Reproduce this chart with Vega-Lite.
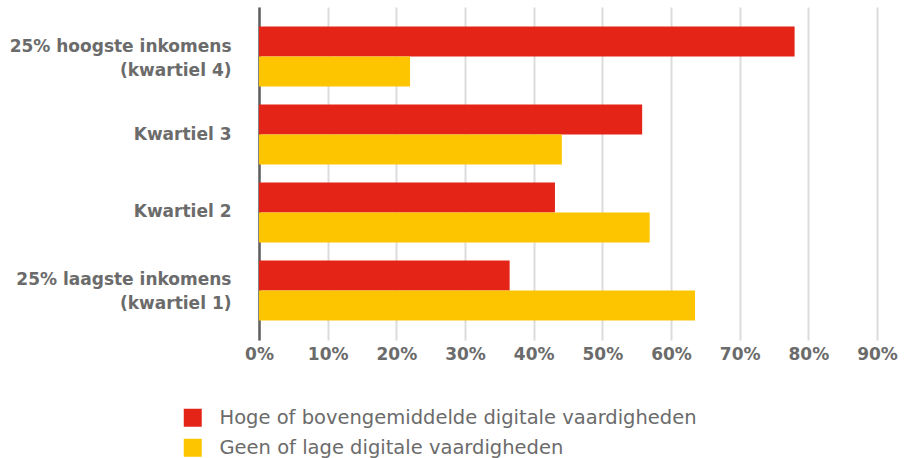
{
  "$schema": "https://vega.github.io/schema/vega-lite/v6.json",
  "width": 618,
  "height": 333,
  "autosize": {"type": "none"},
  "padding": {"left": 259, "top": 7, "right": 30, "bottom": 118},
  "background": "white",
  "config": {
    "view": {"stroke": null},
    "font": "DejaVu Sans"
  },
  "data": {
    "values": [
      {"groep": "25% hoogste inkomens|(kwartiel 4)", "reeks": "Hoge of bovengemiddelde digitale vaardigheden", "waarde": 0.78},
      {"groep": "25% hoogste inkomens|(kwartiel 4)", "reeks": "Geen of lage digitale vaardigheden", "waarde": 0.22},
      {"groep": "Kwartiel 3 ", "reeks": "Hoge of bovengemiddelde digitale vaardigheden", "waarde": 0.558},
      {"groep": "Kwartiel 3 ", "reeks": "Geen of lage digitale vaardigheden", "waarde": 0.441},
      {"groep": "Kwartiel 2 ", "reeks": "Hoge of bovengemiddelde digitale vaardigheden", "waarde": 0.431},
      {"groep": "Kwartiel 2 ", "reeks": "Geen of lage digitale vaardigheden", "waarde": 0.569},
      {"groep": "25% laagste inkomens|(kwartiel 1)", "reeks": "Hoge of bovengemiddelde digitale vaardigheden", "waarde": 0.365},
      {"groep": "25% laagste inkomens|(kwartiel 1)", "reeks": "Geen of lage digitale vaardigheden", "waarde": 0.635}
    ]
  },
  "mark": {"type": "bar"},
  "encoding": {
    "y": {
      "field": "groep",
      "type": "nominal",
      "sort": null,
      "scale": {"paddingInner": 0.23, "paddingOuter": 0.25},
      "axis": {
        "title": null,
        "labelExpr": "split(datum.label, '|')",
        "labelFontSize": 17,
        "labelFontWeight": "bold",
        "labelColor": "#6b6b6b",
        "labelPadding": 28,
        "labelLineHeight": 24,
        "labelLimit": 300,
        "labelOffset": {"condition": {"test": "indexof(datum.value, '|') >= 0", "value": -10}, "value": 0},
        "ticks": false,
        "domainColor": "#5f5f5f",
        "domainWidth": 2.5,
        "grid": false
      }
    },
    "x": {
      "field": "waarde",
      "type": "quantitative",
      "scale": {"domain": [0, 0.9], "nice": false},
      "axis": {
        "title": null,
        "format": ".0%",
        "values": [0, 0.1, 0.2, 0.3, 0.4, 0.5, 0.6, 0.7, 0.8, 0.9],
        "domain": false,
        "ticks": false,
        "grid": true,
        "gridColor": "#dcdcdc",
        "gridWidth": 2,
        "labelFlush": false,
        "labelFontSize": 17,
        "labelFontWeight": "bold",
        "labelColor": "#6b6b6b",
        "labelPadding": 6
      }
    },
    "yOffset": {
      "field": "reeks",
      "type": "nominal",
      "sort": ["Hoge of bovengemiddelde digitale vaardigheden", "Geen of lage digitale vaardigheden"]
    },
    "color": {
      "field": "reeks",
      "type": "nominal",
      "sort": ["Hoge of bovengemiddelde digitale vaardigheden", "Geen of lage digitale vaardigheden"],
      "scale": {
        "domain": ["Hoge of bovengemiddelde digitale vaardigheden", "Geen of lage digitale vaardigheden"],
        "range": ["#e32417", "#fdc500"]
      },
      "legend": {
        "title": null,
        "orient": "none",
        "legendX": -76,
        "legendY": 401,
        "direction": "vertical",
        "symbolType": "square",
        "symbolSize": 324,
        "symbolStrokeWidth": 0,
        "symbolOpacity": 1,
        "labelFontSize": 19.5,
        "labelColor": "#6b6b6b",
        "labelOffset": 17,
        "rowPadding": 9,
        "labelLimit": 700
      }
    }
  }
}
